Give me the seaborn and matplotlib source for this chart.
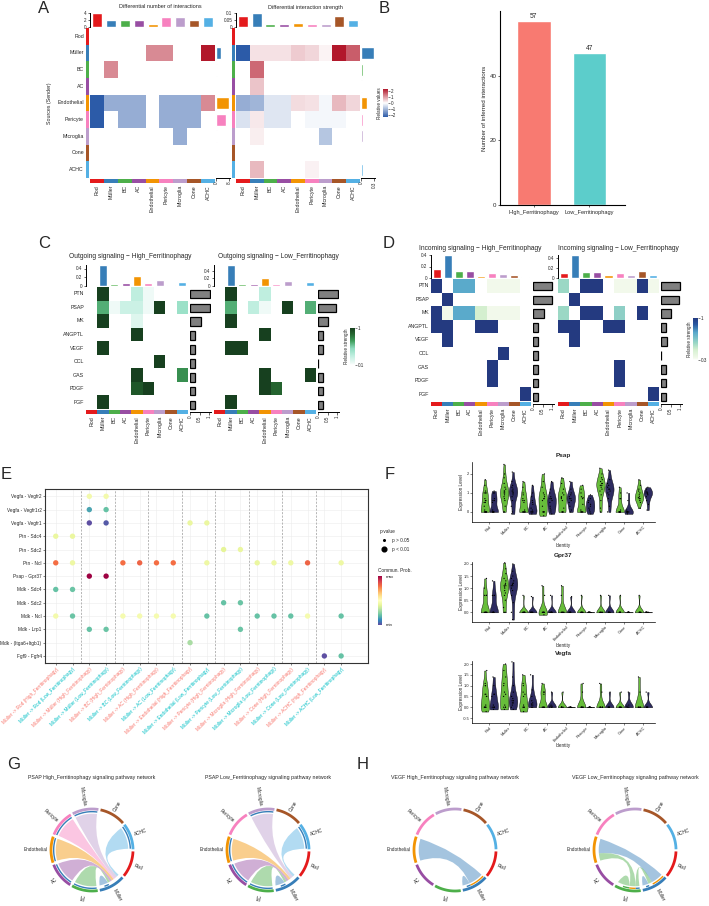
import numpy as np
import pandas as pd
import matplotlib
matplotlib.use("Agg")
import matplotlib.pyplot as plt
import seaborn as sns
from matplotlib.colors import LinearSegmentedColormap, ListedColormap, Normalize
from matplotlib.path import Path
from matplotlib.patches import PathPatch
from matplotlib.lines import Line2D
import matplotlib.cm as cm

sns.set_style("white")
plt.rcParams["font.family"] = ["Liberation Sans", "DejaVu Sans"]
plt.rcParams["axes.linewidth"] = 0.5

nan = np.nan
# ---------------------------------------------------------------- data
cells = ["Rod", "Müller", "BC", "AC", "Endothelial", "Pericyte", "Microglia", "Cone", "ACHC"]
cell_colors = ["#E41A1C", "#377EB8", "#4DAF4A", "#984EA3", "#F29403", "#F781BF", "#BC9DCC", "#A65628", "#54B0E4"]

# A: differential number of interactions (sender rows x receiver cols)
a_count = [
    [nan, nan, nan, nan, nan, nan, nan, nan, nan],
    [nan, nan, nan, nan, 1.0, 1.0, nan, nan, 2.6],
    [nan, 1.0, nan, nan, nan, nan, nan, nan, nan],
    [nan, nan, nan, nan, nan, nan, nan, nan, nan],
    [-2, -1, -1, -1, nan, -1, -1, -1, 1.0],
    [-2, nan, -1, -1, nan, -1, -1, -1, nan],
    [nan, nan, nan, nan, nan, nan, -1, nan, nan],
    [nan, nan, nan, nan, nan, nan, nan, nan, nan],
    [nan, nan, nan, nan, nan, nan, nan, nan, nan],
]
a_count_top = [4, 2, 2, 2, 1, 3, 3, 2, 3]
a_count_right = [0.2, 3.2, 0.5, 0.2, 8, 6.2, 0.4, 0.2, 0.2]
# A: differential interaction strength
a_str = [
    [nan, nan, nan, nan, nan, nan, nan, nan, nan],
    [-2.0, 0.25, 0.25, 0.25, 0.45, 0.35, 0.1, 2.2, 1.4],
    [nan, 1.3, nan, nan, nan, nan, nan, nan, nan],
    [nan, 0.5, nan, nan, nan, nan, nan, nan, nan],
    [-1.0, -0.9, -0.3, -0.3, 0.3, 0.25, -0.1, 0.6, 0.35],
    [-0.35, 0.2, -0.3, -0.3, nan, -0.1, -0.1, -0.1, nan],
    [nan, 0.15, nan, nan, nan, nan, -0.7, nan, nan],
    [nan, nan, nan, nan, nan, nan, nan, nan, nan],
    [nan, 0.6, nan, nan, nan, 0.12, nan, nan, nan],
]
a_str_top = [0.08, 0.1, 0.025, 0.025, 0.03, 0.025, 0.025, 0.08, 0.05]
a_str_right = [0.006, 0.3, 0.05, 0.025, 0.14, 0.05, 0.04, 0.01, 0.04]

# B
b_groups = ["High_Ferritinophagy", "Low_Ferritinophagy"]
b_values = [57, 47]

# C / D
pathways = ["PTN", "PSAP", "MK", "ANGPTL", "VEGF", "CCL", "GAS", "PDGF", "FGF"]
c_high = [
    [nan, 1, nan, nan, 0.25, 0.05, nan, nan, nan],
    [nan, 0.6, 0.05, 0.2, 0.2, 0.05, 1, nan, 0.4],
    [nan, 1, nan, nan, 0.12, nan, nan, nan, nan],
    [nan, nan, nan, nan, 1, nan, nan, nan, nan],
    [nan, 1, nan, nan, nan, nan, nan, nan, nan],
    [nan, nan, nan, nan, nan, nan, 1, nan, nan],
    [nan, nan, nan, nan, 1, nan, nan, nan, 0.7],
    [nan, nan, nan, nan, 0.9, 1, nan, nan, nan],
    [nan, 1, nan, nan, nan, nan, nan, nan, nan],
]
c_high_top = [0.02, 0.48, 0.04, 0.06, 0.24, 0.06, 0.14, 0.02, 0.09]
c_high_right = [1.05, 1.05, 0.55, 0.25, 0.25, 0.25, 0.25, 0.25, 0.25]
c_low = [
    [nan, 1, nan, nan, 0.25, nan, nan, nan, nan],
    [nan, 0.6, nan, 0.25, 0.05, nan, 1, nan, 0.6],
    [nan, 1, nan, nan, nan, nan, nan, nan, nan],
    [nan, nan, nan, nan, 1, nan, nan, nan, nan],
    [nan, 1, 1, nan, nan, nan, nan, nan, nan],
    [nan, nan, nan, nan, nan, nan, nan, nan, nan],
    [nan, nan, nan, nan, 1, nan, nan, nan, 1],
    [nan, nan, nan, nan, 1, 0.85, nan, nan, nan],
    [nan, 1, nan, nan, nan, nan, nan, nan, nan],
]
c_low_top = [0.02, 0.55, 0.05, 0.06, 0.21, 0.04, 0.12, 0.02, 0.1]
c_low_right = [1.05, 0.95, 0.5, 0.28, 0.28, 0.02, 0.25, 0.25, 0.25]

d_high = [
    [1, nan, 0.65, 0.65, nan, 0.05, 0.05, 0.05, nan],
    [nan, 1, nan, nan, nan, nan, nan, nan, nan],
    [1, 0.05, 0.65, 0.65, 0.25, 0.05, 0.05, 0.05, nan],
    [1, 1, nan, nan, 1, 1, nan, nan, nan],
    [nan, 1, nan, nan, nan, nan, nan, nan, nan],
    [nan, nan, nan, nan, nan, nan, 1, nan, nan],
    [nan, nan, nan, nan, nan, 1, nan, nan, nan],
    [nan, nan, nan, nan, nan, 1, nan, nan, nan],
    [nan, nan, nan, nan, nan, nan, nan, nan, 1],
]
d_high_top = [0.16, 0.4, 0.13, 0.13, 0.03, 0.08, 0.07, 0.05, 0.01]
d_high_right = [1.0, 1.0, 0.55, 0.28, 0.28, 0.28, 0.28, 0.28, 0.28]
d_low = [
    [0.4, nan, 1, 1, nan, 0.05, 0.05, 1, 0.05],
    [nan, 1, nan, nan, nan, nan, nan, nan, nan],
    [0.4, nan, 1, 1, nan, 0.45, nan, 1, nan],
    [1, 1, nan, nan, 1, 1, nan, nan, nan],
    [nan, 1, nan, nan, nan, nan, nan, nan, nan],
    [nan, nan, nan, nan, nan, nan, nan, nan, nan],
    [nan, nan, nan, nan, nan, 1, nan, nan, nan],
    [nan, nan, nan, nan, nan, 1, nan, nan, nan],
    [nan, nan, nan, nan, nan, nan, nan, nan, 1],
]
d_low_top = [0.1, 0.45, 0.12, 0.12, 0.05, 0.09, 0.05, 0.13, 0.05]
d_low_right = [1.0, 0.95, 0.5, 0.25, 0.3, 0.02, 0.25, 0.25, 0.25]

# E: bubble plot
e_lr = ["Vegfa - Vegfr2", "Vegfa - Vegfr1r2", "Vegfa - Vegfr1", "Ptn - Sdc4", "Ptn - Sdc2",
        "Ptn - Ncl", "Psap - Gpr37", "Mdk - Sdc4", "Mdk - Sdc2", "Mdk - Ncl", "Mdk - Lrp1",
        "Mdk - (Itga6+Itgb1)", "Fgf9 - Fgfr4"]
e_groups = ["High_Ferritinophagy", "Low_Ferritinophagy"]
e_group_colors = ["#F8766D", "#00BFC4"]
e_dot_row = [0, 0, 1, 1, 2, 2, 2, 2, 3, 3, 4, 4,
             5, 5, 5, 5, 5, 5, 5, 5, 5, 5, 5, 5,
             6, 6, 7, 7, 8, 8,
             9, 9, 9, 9, 9, 9, 9, 9, 9, 9, 9, 9,
             10, 10, 10, 11, 12, 12]
e_dot_col = [2, 3, 2, 3, 2, 3, 8, 9, 0, 1, 10, 11,
             0, 1, 4, 5, 6, 7, 9, 12, 13, 14, 15, 17,
             2, 3, 0, 1, 10, 11,
             0, 1, 4, 5, 6, 7, 9, 12, 13, 14, 15, 17,
             2, 3, 11, 8, 16, 17]
e_dot_prob = [0.45, 0.45, 0.15, 0.2, 0.0, 0.02, 0.42, 0.42, 0.42, 0.42, 0.4, 0.42,
              0.8, 0.43, 0.8, 0.82, 0.8, 0.8, 0.43, 0.42, 0.43, 0.43, 0.82, 0.43,
              1.0, 1.0, 0.2, 0.21, 0.2, 0.21,
              0.45, 0.21, 0.46, 0.46, 0.46, 0.46, 0.2, 0.2, 0.2, 0.2, 0.46, 0.2,
              0.2, 0.21, 0.21, 0.3, 0.0, 0.2]

# F: violin expression values (per identity, High / Low)
psap_high = [[0, 0, 0, 0, 0, 0, 0, 0.1, 0.3, 0.5, 0.5, 0.6, 0.6, 0.7, 1.0, 1.0, 1.0, 1.1, 1.4, 1.7],
             [0, 0, 0.3, 0.6, 0.7, 0.8, 0.9, 1.0, 1.0, 1.1, 1.1, 1.2, 1.3, 1.5, 1.8, 2.0, 2.5],
             [0, 0, 0, 0, 0, 0, 0.1, 0.5, 0.6, 0.6, 0.7, 0.9, 1.0, 1.3, 1.6],
             [-0.2, 0, 0, 0, 0, 0.3, 0.6, 0.7, 0.7, 0.8, 0.9, 1.0, 1.3, 1.6, 2.0],
             [0, 0, 0, 0, 0.2, 0.6, 0.7, 0.75, 0.8, 0.9, 1.0, 1.2, 1.5, 1.8],
             [0, 0, 0, 0, 0, 0.1, 0.4, 0.7, 0.75, 0.8, 1.0, 1.2, 1.4],
             [0, 0.2, 0.6, 0.9, 1.1, 1.2, 1.3, 1.4, 1.4, 1.5, 1.5, 1.6, 1.7, 1.8, 2.0, 2.3],
             [0, 0, 0, 0, 0, 0, 0, 0.1, 0.7, 0.7, 1.0, 1.3],
             [0.2, 0.5, 0.6, 0.7, 0.7, 0.75, 0.8, 0.9, 1.0, 1.1, 1.2, 1.4, 1.7]]
psap_low = [[0, 0, 0, 0, 0, 0, 0.1, 0.5, 0.6, 0.6, 0.7, 1.0, 1.0, 1.1],
            [-0.1, 0, 0.3, 0.6, 0.8, 0.9, 1.0, 1.0, 1.1, 1.1, 1.2, 1.3, 1.4, 1.6, 2.1],
            [-0.1, 0, 0, 0, 0, 0.1, 0.2, 0.4, 0.5, 0.6, 0.8, 1.0, 1.4],
            [-0.1, 0, 0.1, 0.2, 0.3, 0.5, 0.6, 0.7, 0.7, 0.8, 1.0, 1.2, 1.6],
            [0, 0.1, 0.3, 0.5, 0.6, 0.7, 0.7, 0.8, 0.9, 1.0, 1.2, 1.6],
            [-0.1, 0, 0.1, 0.2, 0.3, 0.4, 0.5, 0.6, 0.7, 0.9],
            [0, 0.3, 0.7, 0.9, 1.0, 1.1, 1.2, 1.2, 1.3, 1.4, 1.5, 1.7, 2.2],
            [-0.1, 0, 0, 0, 0, 0, 0, 0.1, 0.6, 1.0],
            [0.1, 0.4, 0.6, 0.8, 0.9, 0.95, 1.0, 1.0, 1.05, 1.1, 1.2, 1.3]]
gpr37_high = [[0, 0, 0, 0, 0, 0, 0, 0, 0.7, 0.7, 0.7, 1.0, 1.4],
              [0, 0, 0.2, 0.5, 0.7, 0.8, 0.9, 1.0, 1.05, 1.1, 1.1, 1.15, 1.2, 1.3, 1.4, 1.6, 1.8, 2.05],
              [0, 0, 0, 0, 0, 0, 0, 0, 0, 0.7],
              [-0.1, 0, 0, 0, 0, 0, 0, 0, 0.7, 1.1],
              [0, 0, 0, 0, 0, 0, 0, 0.7, 1.1],
              [0, 0, 0, 0, 0, 0, 0, 0, 0.7],
              [0, 0, 0, 0, 0, 0, 0, 0.7],
              [0, 0, 0, 0, 0, 0, 0, 0.7],
              [0, 0, 0, 0, 0, 0, 0, 0.7]]
gpr37_low = [[0, 0, 0, 0, 0, 0, 0, 0.7, 0.7, 0.7, 1.3],
             [-0.3, 0, 0.4, 0.7, 0.9, 1.0, 1.1, 1.1, 1.15, 1.2, 1.2, 1.3, 1.4, 1.5, 1.7, 2.0],
             [0, 0, 0, 0, 0, 0, 0, 0, 0.65],
             [0, 0, 0, 0, 0, 0, 0, 0, 0.7],
             [0, 0, 0, 0, 0, 0, 0, 0.65],
             [0, 0, 0, 0, 0, 0, 0, 0.02],
             [0, 0, 0, 0, 0, 0, 0, 0.7],
             [0, 0, 0, 0, 0, 0, 0, 0.02],
             [0, 0, 0, 0, 0, 0, 0, 0.02]]
vegfa_high = [[-0.2, 0, 0, 0, 0, 0, 0.1, 0.5, 0.5, 0.6, 0.6, 1.0, 1.0, 1.1, 1.7],
              [-0.1, 0, 0, 0, 0.1, 0.5, 0.6, 0.7, 1.0, 1.1, 1.4, 1.7, 2.0],
              [-0.2, 0, 0, 0, 0, 0.1, 0.5, 0.6, 0.7, 1.0, 1.1, 1.5],
              [0, 0, 0, 0, 0, 0, 0.6, 0.7, 0.7, 1.1],
              [0, 0, 0, 0, 0, 0, 0, 0.7],
              [0, 0, 0, 0, 0, 0, 0, 0.7, 1.1],
              [0, 0, 0, 0, 0, 0, 0, 0.7, 1.1],
              [0, 0, 0, 0, 0, 0, 0, 0.7],
              [0, 0, 0, 0, 0, 0, 0.7, 1.4]]
vegfa_low = [[-0.1, 0, 0, 0, 0, 0.1, 0.5, 0.6, 0.6, 1.0, 1.4],
             [-0.1, 0, 0.1, 0.2, 0.2, 0.3, 0.3, 0.4, 0.5, 0.7, 1.0, 1.4, 2.1],
             [0, 0, 0.1, 0.1, 0.15, 0.2, 0.3, 0.5, 0.8, 1.5],
             [0, 0, 0, 0.05, 0.05, 0.1, 0.7],
             [0, 0, 0, 0, 0, 0, 0.02],
             [0, 0, 0, 0, 0, 0, 0.02],
             [0, 0, 0, 0, 0, 0, 0.7],
             [0, 0, 0, 0.05, 0.1, 0.7],
             [0, 0, 0, 0, 0, 0, 0.7]]
vln_colors = ["#67BD3A", "#2D2B60"]

# G / H chord links (sender, receiver, weight)
psap_high_links = [("Müller", "Müller", 0.6), ("BC", "Müller", 0.3), ("AC", "Müller", 0.3),
                   ("Endothelial", "Müller", 0.3), ("Pericyte", "Müller", 0.2),
                   ("Microglia", "Müller", 0.4), ("ACHC", "Müller", 0.3)]
psap_low_links = [("Müller", "Müller", 0.6), ("BC", "Müller", 0.3), ("AC", "Müller", 0.3),
                  ("Endothelial", "Müller", 0.3), ("Microglia", "Müller", 0.4), ("ACHC", "Müller", 0.3)]
vegf_high_links = [("Müller", "Endothelial", 1.0), ("Müller", "Müller", 0.25)]
vegf_low_links = [("Müller", "Endothelial", 1.0), ("BC", "Endothelial", 0.5), ("BC", "BC", 0.5),
                  ("BC", "Müller", 0.3), ("Müller", "Müller", 0.25)]

# ---------------------------------------------------------------- helpers
W, H = 709, 906
fig = plt.figure(figsize=(W / 100, H / 100), dpi=100)
FS = 3.8
FS2 = 3.3


def pax(x0, y0, x1, y1):
    return fig.add_axes([x0 / W, 1 - y1 / H, (x1 - x0) / W, (y1 - y0) / H])


def ftext(x, y, s, **kw):
    return fig.text(x / W, 1 - y / H, s, **kw)


def heat(ax, mat, cmap, vmin, vmax, rows=None):
    df = pd.DataFrame(np.array(mat, float), index=rows if rows else list(range(len(mat))), columns=cells)
    sns.heatmap(df, ax=ax, cmap=cmap, vmin=vmin, vmax=vmax, cbar=False,
                xticklabels=False, yticklabels=rows if rows else False)
    if rows:
        ax.tick_params(axis="y", length=0, pad=1.5, labelsize=FS, labelrotation=0)
    ax.set_xlabel("")
    ax.set_ylabel("")


def strip(ax, vertical, labels):
    cmap = ListedColormap(cell_colors)
    if vertical:
        df = pd.DataFrame({"c": list(range(9))}, index=cells)
        sns.heatmap(df, ax=ax, cmap=cmap, vmin=-0.5, vmax=8.5, cbar=False,
                    xticklabels=False, yticklabels=cells if labels else False)
        ax.tick_params(axis="y", length=0, pad=1.5, labelsize=FS, labelrotation=0)
    else:
        df = pd.DataFrame([list(range(9))], columns=cells)
        sns.heatmap(df, ax=ax, cmap=cmap, vmin=-0.5, vmax=8.5, cbar=False,
                    xticklabels=cells if labels else False, yticklabels=False)
        ax.tick_params(axis="x", length=0, pad=1.5, labelsize=FS, labelrotation=90)
    ax.set_xlabel("")
    ax.set_ylabel("")


def top_bars(ax, vals, ticks, labels):
    sns.barplot(x=cells, y=vals, hue=cells, order=cells, hue_order=cells, palette=cell_colors,
                legend=False, width=0.72, saturation=1, ax=ax)
    ax.set_xlim(-0.5, 8.5)
    ax.set_ylim(0, max(ticks[-1], max(vals)))
    ax.set_yticks(ticks)
    ax.set_yticklabels(labels, fontsize=FS2)
    ax.set_xticks([])
    ax.set_xlabel("")
    ax.set_ylabel("")
    for s in ["top", "right", "bottom"]:
        ax.spines[s].set_visible(False)
    ax.spines["left"].set_linewidth(0.7)
    ax.spines["left"].set_color("black")
    ax.tick_params(axis="y", length=1.8, width=0.5, pad=0.8, left=True)
    ax.patch.set_alpha(0)


def right_bars(ax, vals, rows, ticks, labels, xmax, palette=None):
    if palette is not None:
        sns.barplot(x=vals, y=rows, hue=rows, hue_order=rows, palette=palette, legend=False,
                    orient="h", width=0.72, saturation=1, ax=ax)
    else:
        sns.barplot(x=vals, y=rows, color="#808080", edgecolor="black", linewidth=0.9,
                    orient="h", width=0.62, saturation=1, ax=ax)
    ax.set_ylim(len(rows) - 0.5, -0.5)
    ax.set_xlim(0, xmax)
    ax.set_yticks([])
    ax.set_xticks(ticks)
    ax.set_xticklabels(labels, rotation=90, fontsize=FS2)
    ax.set_xlabel("")
    ax.set_ylabel("")
    for s in ["top", "right", "left"]:
        ax.spines[s].set_visible(False)
    ax.spines["bottom"].set_linewidth(0.7)
    ax.spines["bottom"].set_color("black")
    ax.tick_params(axis="x", length=1.8, width=0.5, pad=0.8, bottom=True)
    ax.patch.set_alpha(0)


def cbar(rect, cmap, vmin, vmax, ticks, ticklabels, label):
    cax = pax(*rect)
    sm = cm.ScalarMappable(norm=Normalize(vmin, vmax), cmap=cmap)
    cb = fig.colorbar(sm, cax=cax, ticks=ticks)
    cb.set_ticklabels(ticklabels)
    cb.ax.tick_params(labelsize=FS2, length=1.2, width=0.4, pad=0.8)
    cb.outline.set_visible(False)
    if label:
        cb.set_label(label, fontsize=FS2, labelpad=1)
        cb.ax.yaxis.set_label_position("left")
    return cb


# ---------------------------------------------------------------- panel A
a_cmap = LinearSegmentedColormap.from_list("a", ["#2c5ba8", "#ffffff", "#b2182b"])
for (x0, x1, mat, top, right, tticks, tlabels, rticks, rlabels, rmax, title, labels) in [
    (90, 215, a_count, a_count_top, a_count_right, [0, 2, 4], ["0", "2", "4"], [0, 8], ["0", "8"], 8.5,
     "Differential number of interactions", True),
    (236, 360, a_str, a_str_top, a_str_right, [0, 0.05, 0.1], ["0", "0.05", "0.1"], [0, 0.3], ["0", "0.3"], 0.32,
     "Differential interaction strength", False)]:
    heat(pax(x0, 28, x1, 178), mat, a_cmap, -2, 2)
    strip(pax(x0 - 4, 28, x0 - 0.6, 178), True, labels)
    strip(pax(x0, 179, x1, 183), False, True)
    top_bars(pax(x0, 13, x1, 27), top, tticks, tlabels)
    right_bars(pax(x1 + 1, 28, x1 + 15, 178), right, cells, rticks, rlabels, rmax, palette=cell_colors)
    ftext((x0 + x1 + 15) / 2, 7, title, fontsize=4.0, ha="center", va="center")
ftext(50, 103, "Sources (Sender)", fontsize=FS, rotation=90, ha="center", va="center")
cbar((383, 89, 388, 117), a_cmap, -2.3, 2.3, [-2, -1, 0, 1, 2], ["−2", "−1", "0", "1", "2"], "Relative values")

# ---------------------------------------------------------------- panel B
axb = pax(500, 11, 625, 205)
sns.barplot(x=b_groups, y=b_values, hue=b_groups, palette=["#F87A71", "#5CCDCB"], legend=False,
            width=0.61, saturation=1, ax=axb)
for cont in axb.containers:
    axb.bar_label(cont, fontsize=4.8, padding=0.5)
axb.set_xlim(-0.61, 1.64)
axb.set_ylim(0, 60)
axb.set_yticks([0, 20, 40])
axb.tick_params(axis="y", labelsize=4.4, length=1.5, width=0.5, pad=1, left=True)
axb.tick_params(axis="x", labelsize=4.1, length=1.5, width=0.5, pad=2, bottom=True)
axb.set_ylabel("Number of inferred interactions", fontsize=4.5, labelpad=2)
axb.set_xlabel("")
for s in ["top", "right"]:
    axb.spines[s].set_visible(False)
axb.spines["left"].set_color("black")
axb.spines["bottom"].set_color("black")
axb.spines["left"].set_linewidth(0.8)
axb.spines["bottom"].set_linewidth(0.8)

# ---------------------------------------------------------------- panels C / D
c_cmap = LinearSegmentedColormap.from_list("c", [(0, "#ffffff"), (0.05, "#eefaf6"), (0.25, "#bfeedf"),
                                                 (0.45, "#8fdcc0"), (0.65, "#3f9e5c"), (0.85, "#24632f"),
                                                 (1, "#17401f")])
d_cmap = LinearSegmentedColormap.from_list("d", [(0, "#ffffff"), (0.05, "#f1f9ea"), (0.25, "#d4efcf"),
                                                 (0.4, "#9bd8c5"), (0.65, "#5aaacb"), (0.85, "#2a58a0"),
                                                 (1, "#243a80")])
panels_cd = [
    (86, 188, 287, 409, 265, c_high, c_high_top, c_high_right, c_cmap, "Outgoing signaling − High_Ferritinophagy", 130, 257, True),
    (214, 316, 287, 409, 265, c_low, c_low_top, c_low_right, c_cmap, "Outgoing signaling − Low_Ferritinophagy", 278, 257, False),
    (431, 531, 279, 401, 255, d_high, d_high_top, d_high_right, d_cmap, "Incoming signaling − High_Ferritinophagy", 480, 248, True),
    (558, 659, 279, 401, 255, d_low, d_low_top, d_low_right, d_cmap, "Incoming signaling − Low_Ferritinophagy", 618, 248, False),
]
for (x0, x1, y0, y1, yt, mat, top, right, cmap, title, tx, ty, show_rows) in panels_cd:
    heat(pax(x0, y0, x1, y1), mat, cmap, 0, 1, rows=pathways if show_rows else None)
    strip(pax(x0, y1 + 1, x1, y1 + 5), False, True)
    top_bars(pax(x0, yt, x1, y0 - 1), top, [0, 0.2, 0.4], ["0", "0.2", "0.4"])
    right_bars(pax(x1 + 2, y0, x1 + 23, y1 + 3), right, pathways, [0, 0.5, 1], ["0", "0.5", "1"], 1.1)
    ftext(tx, ty, title, fontsize=4.8, ha="center", va="center")
cbar((350, 328, 355, 365), c_cmap, 0.1, 1, [0.1, 1], ["0.1", "1"], "Relative strength")
cbar((693, 318, 698, 360), d_cmap, 0.3, 1, [0.3, 1], ["0.3", "1"], "Relative strength")

# ---------------------------------------------------------------- panel E
axe = pax(45, 489, 368, 663)
e_df = pd.DataFrame({"x": e_dot_col, "y": e_dot_row, "prob": e_dot_prob})
sns.scatterplot(data=e_df, x="x", y="y", hue="prob", palette="Spectral_r", hue_norm=(0, 1),
                s=15, linewidth=0, legend=False, ax=axe, zorder=3)
e_targets = cells
e_xlabels = [f"Müller -> {t} ({g})" for t in e_targets for g in e_groups]
axe.set_xticks(range(len(e_xlabels)))
axe.set_xticklabels(e_xlabels, rotation=45, ha="right", rotation_mode="anchor", fontsize=3.4)
for i, lab in enumerate(axe.get_xticklabels()):
    lab.set_color(e_group_colors[i % 2])
axe.set_yticks(range(len(e_lr)))
axe.set_yticklabels(e_lr, fontsize=3.4)
axe.set_xlim(-0.64, 18.6)
axe.set_ylim(len(e_lr) - 0.47, -0.55)
axe.grid(True, color="#ececec", lw=0.4)
axe.set_axisbelow(True)
for b in np.arange(1.5, 16.6, 2):
    axe.axvline(b, color="#9a9a9a", lw=0.5, ls=(0, (3, 2)), zorder=1)
axe.tick_params(axis="both", length=1.5, width=0.4, pad=1, bottom=True, left=True)
for s in axe.spines.values():
    s.set_color("#333333")
    s.set_linewidth(0.8)
axe.set_xlabel("")
axe.set_ylabel("")
leg_handles = [Line2D([], [], ls="", marker="o", markersize=1.2, color="black"),
               Line2D([], [], ls="", marker="o", markersize=3.4, color="black")]
fig.legend(leg_handles, ["p > 0.05", "p < 0.01"], title="p-value", loc="upper left",
           bbox_to_anchor=(375 / W, 1 - 525 / H), frameon=False, fontsize=3.4, title_fontsize=3.4,
           handletextpad=0.6, labelspacing=0.8, alignment="left")
ecb = cbar((378, 576, 382, 625), plt.get_cmap("Spectral_r"), 0, 1, [], [], None)
ftext(378, 570, "Commun. Prob.", fontsize=3.4, ha="left", va="center")
ftext(386, 577, "max", fontsize=3.2, ha="left", va="center")
ftext(386, 625, "min", fontsize=3.2, ha="left", va="center")

# ---------------------------------------------------------------- panel F
np.random.seed(3)
for (gene, high, low, y0, y1, ylim, ticks, tlabels) in [
    ("Psap", psap_high, psap_low, 462, 522, (-0.53, 2.63), [0, 1, 2], ["0", "1", "2"]),
    ("Gpr37", gpr37_high, gpr37_low, 562, 622, (-0.4, 2.08), [0, 0.5, 1, 1.5, 2], ["0.0", "0.5", "1.0", "1.5", "2.0"]),
    ("Vegfa", vegfa_high, vegfa_low, 661, 723, (-0.73, 2.14), [-0.5, 0, 0.5, 1, 1.5, 2],
     ["-0.5", "0.0", "0.5", "1.0", "1.5", "2.0"])]:
    rows = []
    for ci, c in enumerate(cells):
        rows += [(c, "High", v) for v in high[ci]]
        rows += [(c, "Low", v) for v in low[ci]]
    df = pd.DataFrame(rows, columns=["Identity", "group", "value"])
    ax = pax(472, y0, 655, y1)
    sns.violinplot(data=df, x="Identity", y="value", hue="group", order=cells, hue_order=["High", "Low"],
                   palette=vln_colors, density_norm="width", cut=0, inner=None, linewidth=0.3,
                   linecolor="black", width=0.92, gap=0.05, bw_adjust=0.9, saturation=1, legend=False, ax=ax)
    sns.stripplot(data=df, x="Identity", y="value", hue="group", order=cells, hue_order=["High", "Low"],
                  palette=["black", "black"], dodge=True, jitter=0.14, size=0.9, linewidth=0,
                  legend=False, ax=ax)
    ax.set_xlim(-0.9, 8.6)
    ax.set_ylim(*ylim)
    ax.set_yticks(ticks)
    ax.set_yticklabels(tlabels, fontsize=2.9)
    ax.set_xticks(range(9))
    ax.set_xticklabels(cells, rotation=45, ha="right", rotation_mode="anchor", fontsize=2.9)
    ax.tick_params(axis="both", length=1.3, width=0.4, pad=0.8, bottom=True, left=True)
    for s in ["top", "right"]:
        ax.spines[s].set_visible(False)
    for s in ["left", "bottom"]:
        ax.spines[s].set_color("black")
        ax.spines[s].set_linewidth(0.5)
    ax.set_xlabel("")
    ax.set_ylabel("")
    ftext(563, y0 - 7, gene, fontsize=4.6, fontweight="bold", ha="center", va="center")
    ftext(462, (y0 + y1) / 2, "Expression Level", fontsize=3.3, rotation=90, ha="center", va="center")
    ftext(563, y1 + 23, "Identity", fontsize=3.3, ha="center", va="center")

# ---------------------------------------------------------------- panels G / H (chord)
def arc_pts(r, a0, a1, m=40):
    t = np.radians(np.linspace(a0, a1, m))
    return np.c_[r * np.cos(t), r * np.sin(t)]


def chord(ax, links):
    n = len(cells)
    step = 360.0 / n
    gap = 3.0
    span = step - gap
    start = -2.0
    sec = [(start - i * step, start - i * step - span) for i in range(n)]
    ends = {i: [] for i in range(n)}
    for k, (s, t, w) in enumerate(links):
        si, ti = cells.index(s), cells.index(t)
        ends[si].append((k, "src", w, (ti - si) % n))
        ends[ti].append((k, "dst", w, (si - ti) % n))
    pos = {}
    for i in range(n):
        if not ends[i]:
            continue
        lst = sorted(ends[i], key=lambda e: (-e[3], e[1] == "dst"))
        tot = sum(e[2] for e in lst)
        pad = 1.0
        cur = sec[i][0] - pad
        usable = span - 2 * pad
        for (k, role, w, _) in lst:
            d = usable * w / tot
            pos[(k, role)] = (cur, cur - d)
            cur -= d
    rl = 0.885
    for k, (s, t, w) in enumerate(links):
        si, ti = cells.index(s), cells.index(t)
        a0, a1 = pos[(k, "src")]
        b0, b1 = pos[(k, "dst")]
        if si == ti:
            lo, hi = min(a0, a1, b0, b1), max(a0, a1, b0, b1)
            mid = np.radians((lo + hi) / 2)
            ctrl = (0.5 * rl * np.cos(mid), 0.5 * rl * np.sin(mid))
        else:
            ctrl = (0.0, 0.0)
        A = arc_pts(rl, a0, a1)
        B = arc_pts(rl, b0, b1)
        verts = list(map(tuple, A)) + [ctrl, tuple(B[0])] + list(map(tuple, B[1:])) + [ctrl, tuple(A[0])]
        codes = ([Path.MOVETO] + [Path.LINETO] * (len(A) - 1) + [Path.CURVE3, Path.CURVE3]
                 + [Path.LINETO] * (len(B) - 1) + [Path.CURVE3, Path.CURVE3])
        ax.add_patch(PathPatch(Path(verts, codes), facecolor=cell_colors[si], alpha=0.45,
                               edgecolor="none", zorder=2))
        T = arc_pts(0.935, a0, a1)
        ax.plot(T[:, 0], T[:, 1], color=cell_colors[ti], lw=1.0, solid_capstyle="butt", zorder=3)
    for i in range(n):
        P = arc_pts(1.0, sec[i][0], sec[i][1])
        ax.plot(P[:, 0], P[:, 1], color=cell_colors[i], lw=2.0, solid_capstyle="butt", zorder=3)
        mid = (sec[i][0] + sec[i][1]) / 2
        m = (mid + 180) % 360 - 180
        r = 1.09
        x, y = r * np.cos(np.radians(m)), r * np.sin(np.radians(m))
        if -90 <= m <= 90:
            rot, ha = m, "left"
        else:
            rot, ha = m - 180 if m > 0 else m + 180, "right"
        ax.text(x, y, cells[i], fontsize=3.4, rotation=rot, ha=ha, va="center",
                rotation_mode="anchor")
    ax.set_xlim(-1.45, 1.45)
    ax.set_ylim(-1.45, 1.45)
    ax.set_aspect("equal")
    ax.axis("off")


for (cx, links, title) in [
    (92, psap_high_links, "PSAP High_Ferritinophagy signaling pathway network"),
    (268, psap_low_links, "PSAP Low_Ferritinophagy signaling pathway network"),
    (455, vegf_high_links, "VEGF High_Ferritinophagy signaling pathway network"),
    (635, vegf_low_links, "VEGF Low_Ferritinophagy signaling pathway network")]:
    r = 41 * 1.45
    axc = pax(cx - r, 850 - r, cx + r, 850 + r)
    chord(axc, links)
    ftext(cx, 777, title, fontsize=3.8, ha="center", va="center")

# ---------------------------------------------------------------- panel letters
for (lx, ly, letter) in [(38, 1, "A"), (379, 1, "B"), (38, 236, "C"), (383, 236, "D"),
                         (1, 467, "E"), (385, 467, "F"), (7, 757, "G"), (357, 757, "H")]:
    ftext(lx, ly, letter, fontsize=12, ha="left", va="top")

fig.savefig("out.png", dpi=100, facecolor="white")
